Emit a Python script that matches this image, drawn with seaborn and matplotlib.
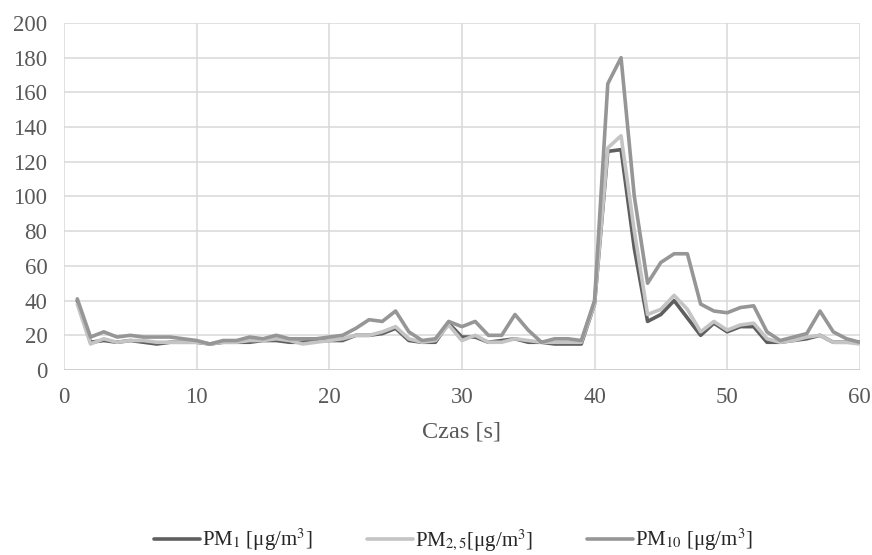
import matplotlib
matplotlib.use('Agg')
import matplotlib.pyplot as plt
import seaborn as sns
import numpy as np
import pandas as pd

# Time axis [s]
czas = list(range(1, 61))

pm1 = [40, 16, 17, 16, 17, 16, 15, 16, 16, 16,
       15, 16, 16, 16, 17, 17, 16, 16, 17, 17,
       17, 20, 20, 21, 24, 17, 16, 16, 27, 19,
       19, 16, 17, 18, 16, 16, 15, 15, 15, 38,
       126, 127, 70, 28, 32, 40, 30, 20, 27, 22,
       25, 25, 16, 16, 17, 18, 20, 16, 16, 16]

pm25 = [38, 15, 18, 16, 17, 17, 16, 16, 16, 16,
        15, 16, 16, 17, 17, 18, 17, 15, 16, 17,
        18, 20, 20, 22, 25, 18, 16, 17, 26, 17,
        20, 16, 16, 18, 17, 16, 16, 16, 16, 38,
        128, 135, 80, 32, 35, 43, 35, 22, 28, 23,
        26, 27, 18, 16, 17, 19, 20, 16, 16, 15]

pm10 = [41, 19, 22, 19, 20, 19, 19, 19, 18, 17,
        15, 17, 17, 19, 18, 20, 18, 18, 18, 19,
        20, 24, 29, 28, 34, 22, 17, 18, 28, 25,
        28, 20, 20, 32, 23, 16, 18, 18, 17, 40,
        165, 180, 100, 50, 62, 67, 67, 38, 34, 33,
        36, 37, 22, 17, 19, 21, 34, 22, 18, 16]

labels = [r'PM$_{1}$ [μg/m$^{3}$]', r'PM$_{2,5}$[μg/m$^{3}$]', r'PM$_{10}$ [μg/m$^{3}$]']
colors = ['#5f5f5f', '#c4c4c4', '#969696']

df = pd.DataFrame({'czas': czas, labels[0]: pm1, labels[1]: pm25, labels[2]: pm10})
long = df.melt(id_vars='czas', var_name='seria', value_name='wartosc')

sns.set_style('white')
plt.rcParams['font.family'] = ['Liberation Serif', 'DejaVu Serif']
plt.rcParams['mathtext.fontset'] = 'stix'

fig = plt.figure(figsize=(8.72, 5.55), dpi=100)
ax = fig.add_axes([0.0734, 0.3333, 0.9126, 0.6253])

sns.lineplot(data=long, x='czas', y='wartosc', hue='seria', palette=colors,
             linewidth=2.6, ax=ax, legend=False)
for ln in ax.lines:
    ln.set_solid_joinstyle('round')
    ln.set_solid_capstyle('round')

ax.set_xlim(0, 60)
ax.set_ylim(0, 200)
ax.set_xticks(range(0, 61, 10))
ax.set_yticks(range(0, 201, 20))
ax.grid(True, color='#d9d9d9', linewidth=1.1)
for s in ax.spines.values():
    s.set_visible(False)
ax.axhline(0, color='#d0d0d0', linewidth=1.4, zorder=1)
ax.tick_params(axis='both', length=0, labelsize=16.5, colors='#595959', pad=12)
ax.set_xlabel('Czas [s]', fontsize=17.5, color='#595959', labelpad=10)
ax.set_ylabel('')

handles = [plt.Line2D([], [], color=c, linewidth=2.6) for c in colors]
fig.legend(handles, labels, loc='center', bbox_to_anchor=(0.52, 0.027),
           ncol=3, frameon=False, fontsize=15, handlelength=2.2,
           handletextpad=0.1, columnspacing=2.6)

fig.savefig('out.png', dpi=100)
